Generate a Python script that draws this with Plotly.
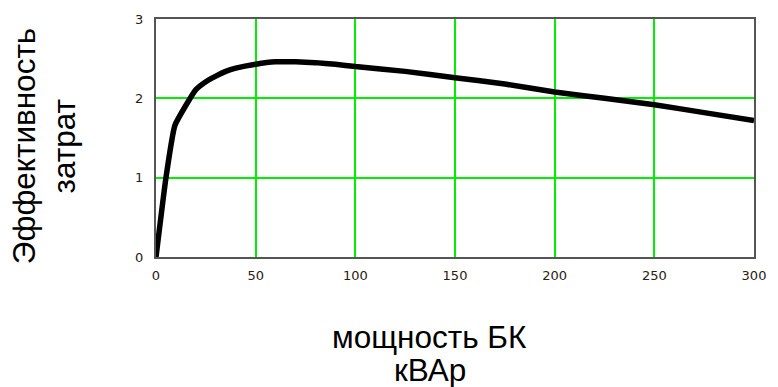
import plotly.graph_objects as go

power_kvar = [0, 5, 9.5, 20, 25, 30, 35, 40, 50, 60, 70, 80, 90, 100, 125, 150, 175, 200, 225, 250, 275, 300]
efficiency = [0, 1.0, 1.66, 2.11, 2.21, 2.28, 2.34, 2.38, 2.43, 2.46, 2.46, 2.45, 2.43, 2.40, 2.34, 2.26, 2.18, 2.08, 2.00, 1.92, 1.82, 1.72]
x_ticks = [0, 50, 100, 150, 200, 250, 300]
y_ticks = [0, 1, 2, 3]

fig = go.Figure()
fig.add_trace(go.Scatter(x=power_kvar, y=efficiency, mode="lines",
                         line=dict(color="black", width=5.5, shape="spline", smoothing=0.4),
                         showlegend=False))

axis_common = dict(showline=True, mirror=True, linecolor="#555555", linewidth=2,
                   showgrid=True, gridcolor="#00ee00", gridwidth=2, zeroline=False,
                   ticks="", tickfont=dict(family="DejaVu Sans", size=13, color="#2a2010"))
fig.update_xaxes(range=[0, 300], tickvals=x_ticks, ticklabelstandoff=5, **axis_common)
fig.update_yaxes(range=[0, 3], tickvals=y_ticks, ticklabelstandoff=8, **axis_common)

title_font = dict(family="Liberation Sans", size=31.5, color="black")
fig.add_annotation(text="Эффективность", xref="paper", yref="paper", x=-0.221, y=0.465,
                   textangle=-90, showarrow=False, xanchor="center", yanchor="middle",
                   font=title_font)
fig.add_annotation(text="затрат", xref="paper", yref="paper", x=-0.153, y=0.462,
                   textangle=-90, showarrow=False, xanchor="center", yanchor="middle",
                   font=title_font)
fig.add_annotation(text="мощность БК", xref="paper", yref="paper", x=0.458, y=-0.335,
                   showarrow=False, xanchor="center", yanchor="middle",
                   font=title_font)
fig.add_annotation(text="кВАр", xref="paper", yref="paper", x=0.458, y=-0.476,
                   showarrow=False, xanchor="center", yanchor="middle",
                   font=title_font)

fig.update_layout(width=778, height=387, margin=dict(l=156, r=24, t=17, b=130),
                  paper_bgcolor="white", plot_bgcolor="white")
fig.write_html("out.html")
